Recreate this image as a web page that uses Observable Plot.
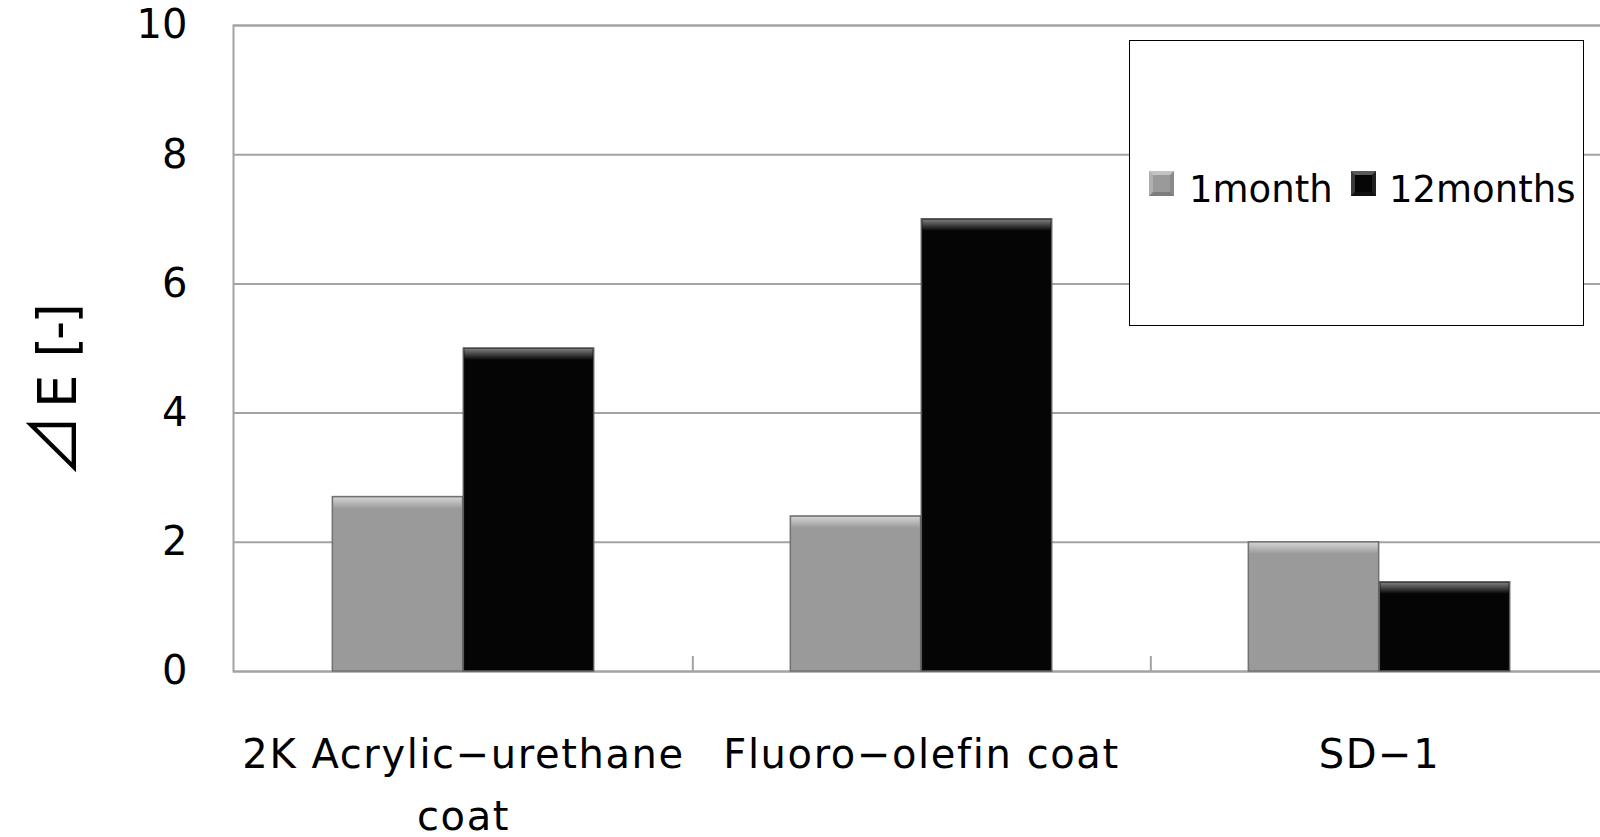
<!DOCTYPE html>
<html>
<head>
<meta charset="utf-8">
<script src="https://cdn.jsdelivr.net/npm/d3@7"></script>
<script src="https://cdn.jsdelivr.net/npm/@observablehq/plot@0.6"></script>
<style>
  html, body { margin: 0; padding: 0; background: #fff; overflow: hidden; }
  #wrap { position: relative; width: 1600px; height: 837px; font-family: "DejaVu Sans", "Noto Sans CJK JP", sans-serif; color: #000; }
  #wrap svg { position: absolute; left: 0; top: 0; }
  .legend { position: absolute; left: 1129px; top: 40px; width: 455px; height: 286px; box-sizing: border-box;
            border: 1.5px solid #000; background: #fff; }
  .sw { position: absolute; width: 25px; height: 25px; box-sizing: border-box; border-style: solid; border-width: 4px; }
  .sw.gray { background: #9a9a9a; border-color: #c4c4c4 #8a8a8a #7c7c7c #b0b0b0; }
  .sw.black { background: #060606; border-color: #5a5a5a #202020 #101010 #3a3a3a; }
  .lt { position: absolute; font-size: 37px; line-height: 1; white-space: nowrap; }
  .ylabel { position: absolute; left: 50px; top: 392px; font-size: 53px; line-height: 1; white-space: nowrap;
            transform: translate(-50%, -50%) rotate(-90deg); }
  .ylabel .tri { font-family: "Noto Sans CJK JP", sans-serif; font-size: 64px; margin-right: 6px; }
  .ylabel .br { letter-spacing: -3px; }
</style>
</head>
<body>
<div id="wrap"></div>
<script>
// Colour difference after outdoor exposure, per coating
const categories = ["2K Acrylic−urethane coat", "Fluoro−olefin coat", "SD−1"];
const categoryLines = [["2K Acrylic−urethane", "coat"], ["Fluoro−olefin coat"], ["SD−1"]];
const seriesNames = ["1month", "12months"];
const oneMonth = [2.7, 2.4, 2.0];
const twelveMonths = [5.0, 7.0, 1.38];
const yTicks = [0, 2, 4, 6, 8, 10];
const yLabelParts = ["⊿", "E ", "[-]"];

const font = '"DejaVu Sans", "Noto Sans CJK JP", sans-serif';
const left = 233, right = 1609;          // x extent of the category bands
const bw = (right - left) / categories.length;
const barW = 131;                        // width of one bar in a group

const rowsA = categories.map((c, i) => ({category: c, value: oneMonth[i]}));
const rowsB = categories.map((c, i) => ({category: c, value: twelveMonths[i]}));

const grayPos = {insetLeft: bw / 2 - barW, insetRight: bw / 2};
const blackPos = {insetLeft: bw / 2, insetRight: bw / 2 - barW};

const chart = Plot.plot({
  width: 1600,
  height: 837,
  marginLeft: left,
  marginRight: 0,
  marginTop: 25,
  marginBottom: 166,
  style: {fontFamily: font, fontSize: "40px", color: "#000", background: "transparent", overflow: "visible"},
  x: {type: "band", domain: categories, range: [left, right], padding: 0, axis: null},
  y: {domain: [0, 10], axis: null},
  marks: [
    Plot.ruleY(yTicks, {stroke: "#a3a3a3", strokeWidth: 2}),
    Plot.frame({stroke: "#a3a3a3", strokeWidth: 2, insetRight: -8}),
    // separators between category groups
    Plot.ruleX(categories.slice(0, 2), {x: d => d, dx: bw / 2, y1: 0, y2: 0, insetTop: -15, stroke: "#a3a3a3", strokeWidth: 2}),
    // 1 month
    Plot.barY(rowsA, {x: "category", y: "value", fill: "#9a9a9a", stroke: "#727272", strokeWidth: 1.5, ...grayPos}),
    Plot.barY(rowsA, {x: "category", y1: "value", y2: "value", insetBottom: -12, fill: "url(#bevelGray)", ...grayPos, insetLeft: grayPos.insetLeft + 1, insetRight: grayPos.insetRight + 1, insetTop: 1}),
    // 12 months
    Plot.barY(rowsB, {x: "category", y: "value", fill: "#050505", stroke: "#5a5a5a", strokeWidth: 1.5, ...blackPos}),
    Plot.barY(rowsB, {x: "category", y1: "value", y2: "value", insetBottom: -12, fill: "url(#bevelBlack)", ...blackPos, insetLeft: blackPos.insetLeft + 1, insetRight: blackPos.insetRight + 1, insetTop: 1}),
    Plot.axisY(yTicks, {tickSize: 0, tickPadding: 46, fontSize: 40, label: null, tickFormat: d => String(d)}),
    Plot.text(categories, {x: d => d, frameAnchor: "bottom", lineAnchor: "top", dy: 52, lineHeight: 1.55, fontSize: 40,
      text: (d, i) => categoryLines[i].join("\n")})
  ]
});

// bevel gradients for the bar tops
const defs = d3.select(chart).insert("defs", ":first-child");
[["bevelGray", "#d2d2d2", "#9a9a9a"], ["bevelBlack", "#7a7a7a", "#060606"]].forEach(([id, a, b]) => {
  const g = defs.append("linearGradient").attr("id", id).attr("x1", 0).attr("y1", 0).attr("x2", 0).attr("y2", 1);
  g.append("stop").attr("offset", 0).attr("stop-color", a);
  g.append("stop").attr("offset", 1).attr("stop-color", b);
});
// slightly looser tracking on the category labels
d3.select(chart).selectAll('g[aria-label="text"] text').style("letter-spacing", "1.6px");

const wrap = document.getElementById("wrap");
wrap.appendChild(chart);

// y-axis title
const yl = document.createElement("div");
yl.className = "ylabel";
const cls = ["tri", "", "br"];
yLabelParts.forEach((p, i) => {
  const s = document.createElement("span");
  if (cls[i]) s.className = cls[i];
  s.textContent = p;
  yl.appendChild(s);
});
wrap.appendChild(yl);

// legend box
const legend = document.createElement("div");
legend.className = "legend";
wrap.appendChild(legend);
const items = [
  {cls: "gray", name: seriesNames[0], sx: 1148, tx: 1188},
  {cls: "black", name: seriesNames[1], sx: 1350, tx: 1388}
];
items.forEach(it => {
  const sw = document.createElement("div");
  sw.className = "sw " + it.cls;
  sw.style.left = (it.sx - 1129) + "px";
  sw.style.top = (170 - 40) + "px";
  legend.appendChild(sw);
  const t = document.createElement("div");
  t.className = "lt";
  t.textContent = it.name;
  t.style.left = (it.tx - 1129) + "px";
  t.style.top = (170 - 40) + "px";
  legend.appendChild(t);
});
</script>
</body>
</html>
